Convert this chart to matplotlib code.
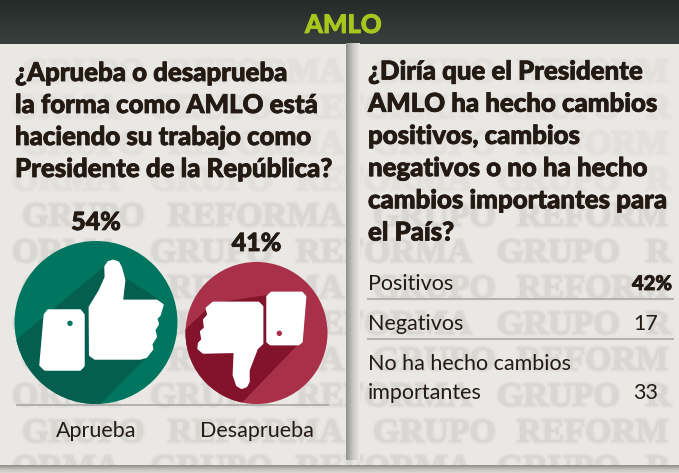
# Encuesta AMLO: aprobacion y cambios percibidos
import numpy as np
import matplotlib
matplotlib.use('Agg')
import matplotlib.pyplot as plt
import matplotlib.patheffects as pe
from matplotlib.patches import Circle, Polygon

approve_labels = ['Aprueba', 'Desaprueba']
approve_values = [54, 41]
change_labels = ['Positivos', 'Negativos', 'No ha hecho cambios\nimportantes']
change_values = [42, 17, 33]

header = 'AMLO'
question_left = ['¿Aprueba o desaprueba', 'la forma como AMLO está',
                 'haciendo su trabajo como', 'Presidente de la República?']
question_right = ['¿Diría que el Presidente', 'AMLO ha hecho cambios',
                  'positivos, cambios', 'negativos o no ha hecho',
                  'cambios importantes para', 'el País?']

# watermark rows alternate between these two word layouts
mark_even = [('GRUPO', 22), ('REFORMA', 168), ('GRUPO', 373), ('REFORM', 517)]
mark_odd = [('ORMA', 12), ('GRUPO', 150), ('REFORMA', 296), ('GRUPO', 497), ('R', 646)]

INK = '#241a14'
BG = '#e9e8e4'
FONT = 'Lato'
HEAVY = [pe.withStroke(linewidth=0.6, foreground=INK)]

fig = plt.figure(figsize=(6.79, 4.73), dpi=100)
ax = fig.add_axes([0, 0, 1, 1], frameon=False)
ax.set_xticks([]), ax.set_yticks([])
fig.patch.set_facecolor(BG)


def band(x0, x1, y0, y1, colors, vertical=True):
    # gradient strip between two or more gray levels
    c = np.array([matplotlib.colors.to_rgb(k) for k in colors])
    t = np.linspace(0, len(c) - 1, 64)
    g = np.stack([np.interp(t, np.arange(len(c)), c[:, i]) for i in range(3)], axis=-1)
    g = g[:, None, :] if vertical else g[None, :, :]
    ax.imshow(g, extent=[x0, x1, y1, y0], aspect='auto', zorder=3, interpolation='bilinear')


for i, y in enumerate(np.arange(70, 480, 36)):
    words = mark_even if i % 2 == 0 else mark_odd
    col = '#e1e0dc' if y < 190 else '#d8d7d3'
    soft = [pe.withStroke(linewidth=4, foreground=col, alpha=0.15),
            pe.withStroke(linewidth=2.2, foreground=col, alpha=0.35)]
    for word, gx in words:
        ax.text(gx, y + 12, word, family='Liberation Serif', weight='bold', fontsize=24.5,
                color=col, zorder=1, path_effects=soft)

band(0, 679, 0, 44, ['#252b28', '#3a403d'])
band(346, 360, 44, 460, ['#8f8f8c', '#c9c8c5', BG], vertical=False)
band(0, 679, 465, 473, ['#8e8b86', '#c2c0bb', '#dad8d4'])

ax.text(343.5, 33, header, family=FONT, weight='black', fontsize=18.5, color='#a8c61e',
        ha='center', va='baseline', zorder=5,
        path_effects=[pe.withStroke(linewidth=0.6, foreground='#a8c61e')])

for i, line in enumerate(question_left):
    ax.text(15, 81 + 32 * i, line, family=FONT, weight='black', fontsize=18.6, color=INK,
            va='baseline', zorder=5, path_effects=HEAVY)
for i, line in enumerate(question_right):
    ax.text(368, 79.5 + 32.2 * i, line, family=FONT, weight='black', fontsize=18.6, color=INK,
            va='baseline', zorder=5, path_effects=HEAVY)


def z(pts):
    return [(x / 3, 200 + y / 3) for x, y in pts]


thumb_up = z([(270, 322), (300, 272), (318, 232), (317, 200), (326, 187), (340, 183), (354, 188), (362, 203),
              (372, 240), (365, 303),
              (470, 303), (487, 315), (478, 345), (468, 355), (473, 372), (462, 390), (467, 410),
              (453, 432), (456, 447), (438, 470), (420, 475), (285, 475), (271, 465)])
cuff_up = z([(135, 345), (145, 332), (240, 332), (250, 345), (250, 497), (240, 508),
             (135, 508), (122, 495)])
shade_up = z([(318, 195), (48, 420), (30, 640), (298, 615), (440, 472), (480, 300)])
thumb_down = z([(640, 309), (775, 309), (786, 320), (786, 430), (770, 445), (745, 510), (745, 545),
                (738, 558), (725, 563), (712, 555), (702, 525), (705, 455), (610, 457), (596, 445), (598, 430),
                (608, 420), (604, 395), (616, 385), (613, 360), (626, 345), (621, 325)])
cuff_down = z([(815, 279), (905, 279), (915, 290), (904, 425), (895, 432), (812, 432),
               (803, 425), (803, 290)])
shade_down = z([(640, 309), (552, 392), (540, 640), (722, 612), (895, 433), (803, 285)])

circles = [
    (96, '#00755f', '#045f4e', thumb_up, cuff_up, shade_up, (210, 370)),
    (256.5, '#a93049', '#82132b', thumb_down, cuff_down, shade_down, (838, 400)),
]
BASE = 404
K = 81.5 / np.sqrt(approve_values[0])  # area follows the value

for val, label, (cx, col, dark, hand, cuff, shade, dot) in zip(approve_values, approve_labels, circles):
    r = K * np.sqrt(val)
    cy = BASE - r
    c = Circle((cx, cy), r, facecolor=col, edgecolor='none', zorder=4)
    ax.add_patch(c)
    s = Polygon(shade, closed=True, facecolor=dark, edgecolor='none', zorder=4.1)
    ax.add_patch(s)
    s.set_clip_path(c)
    for shape in (hand, cuff):
        ax.add_patch(Polygon(shape, closed=True, facecolor='white', edgecolor='white', lw=2,
                             joinstyle='round', zorder=4.2))
    ax.add_patch(Circle((dot[0] / 3, 200 + dot[1] / 3), 2.7, facecolor=col, edgecolor='none', zorder=4.3))
    ax.text(cx, cy - r - 11, f'{val}%', family=FONT, weight='black', fontsize=18, color=INK,
            ha='center', va='baseline', zorder=5, path_effects=HEAVY)
    ax.text(cx, 437, label, family=FONT, weight='regular', fontsize=15.5, color=INK,
            ha='center', va='baseline', zorder=5)

ax.plot([17, 328], [BASE + 1, BASE + 1], color='#a9a8a4', lw=1.2, zorder=2)

# table on the right
for y_line in (299, 339):
    ax.plot([368, 673], [y_line, y_line], color='#b4b3af', lw=1.5, zorder=2)
TXT = dict(family=FONT, weight='regular', fontsize=15.5, color=INK, zorder=5)
ax.text(368, 290, change_labels[0], **TXT)
ax.text(368, 330, change_labels[1], **TXT)
first, second = change_labels[2].split('\n')
ax.text(368, 369.5, first, **TXT)
ax.text(368, 399, second, **TXT)
ax.text(632, 290, f'{change_values[0]}%', family=FONT, weight='black', fontsize=14.5, color=INK, zorder=5,
        path_effects=HEAVY)
ax.text(633, 330, str(change_values[1]), **TXT)
ax.text(633, 399, str(change_values[2]), **TXT)

ax.set_xlim(0, 679)
ax.set_ylim(473, 0)
fig.savefig('out.png', dpi=100, facecolor=BG)
